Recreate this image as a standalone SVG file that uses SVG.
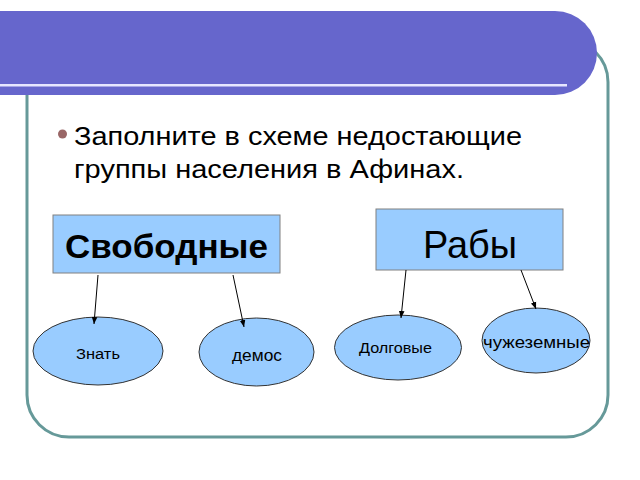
<svg xmlns="http://www.w3.org/2000/svg" width="640" height="480" viewBox="0 0 640 480">
<defs>
<style>
.t{font-family:"Liberation Sans",Arial,sans-serif;fill:#000}
.box{fill:#99ccff;stroke:#808080;stroke-width:1}
.ell{fill:#99ccff;stroke:#333;stroke-width:1}
.con{stroke:#000;stroke-width:1;fill:none;marker-end:url(#ah)}
</style>
<marker id="ah" viewBox="0 0 10 10" refX="10" refY="5" markerWidth="7" markerHeight="7" orient="auto" markerUnits="userSpaceOnUse">
<path d="M0,1 L10,5 L0,9 z" fill="#000"/>
</marker>
</defs>
<rect width="640" height="480" fill="#fff"/>
<g id="frame">
<rect x="27" y="40" width="581" height="397" rx="42" ry="42" fill="none" stroke="#669999" stroke-width="3"/>
</g>
<g id="header">
<path d="M-10,11 H555 A42,42 0 0 1 555,95 H-10 Z" fill="#6666cc"/>
<rect x="0" y="84" width="567" height="2.5" fill="#e6e6ff"/>
</g>
<g id="title">
<circle cx="62.5" cy="134" r="4.5" fill="#996666"/>
<text class="t" x="74" y="145" font-size="25" textLength="448" lengthAdjust="spacingAndGlyphs">Заполните в схеме недостающие</text>
<text class="t" x="74" y="178" font-size="25" textLength="390" lengthAdjust="spacingAndGlyphs">группы населения в Афинах.</text>
</g>
<g id="svobodnye">
<rect class="box" x="53" y="215" width="227" height="58"/>
<text class="t" x="65" y="258" font-size="33" font-weight="bold" textLength="203" lengthAdjust="spacingAndGlyphs">Свободные</text>
</g>
<g id="raby">
<rect class="box" x="376" y="209" width="187" height="61"/>
<text class="t" x="423" y="258" font-size="39" textLength="94" lengthAdjust="spacingAndGlyphs">Рабы</text>
</g>
<g id="znat">
<ellipse class="ell" cx="98" cy="351" rx="65" ry="34"/>
<text class="t" x="76" y="359" font-size="15.5" textLength="44" lengthAdjust="spacingAndGlyphs">Знать</text>
</g>
<g id="demos">
<ellipse class="ell" cx="256.5" cy="352" rx="57.5" ry="34"/>
<text class="t" x="232" y="361" font-size="17" textLength="50" lengthAdjust="spacingAndGlyphs">демос</text>
</g>
<g id="dolgovye">
<ellipse class="ell" cx="398" cy="347.5" rx="63.5" ry="32.5"/>
<text class="t" x="359" y="353" font-size="15.5" textLength="73" lengthAdjust="spacingAndGlyphs">Долговые</text>
</g>
<g id="chuzhezemnye">
<ellipse class="ell" cx="536" cy="340.5" rx="54" ry="32.5"/>
<text class="t" x="483" y="348" font-size="16" textLength="107" lengthAdjust="spacingAndGlyphs">чужеземные</text>
</g>
<g id="connectors">
<line class="con" x1="98" y1="275" x2="94" y2="324"/>
<line class="con" x1="233" y1="275" x2="244" y2="327"/>
<line class="con" x1="406" y1="270" x2="401" y2="318"/>
<line class="con" x1="521" y1="270" x2="536" y2="309"/>
</g>
</svg>
